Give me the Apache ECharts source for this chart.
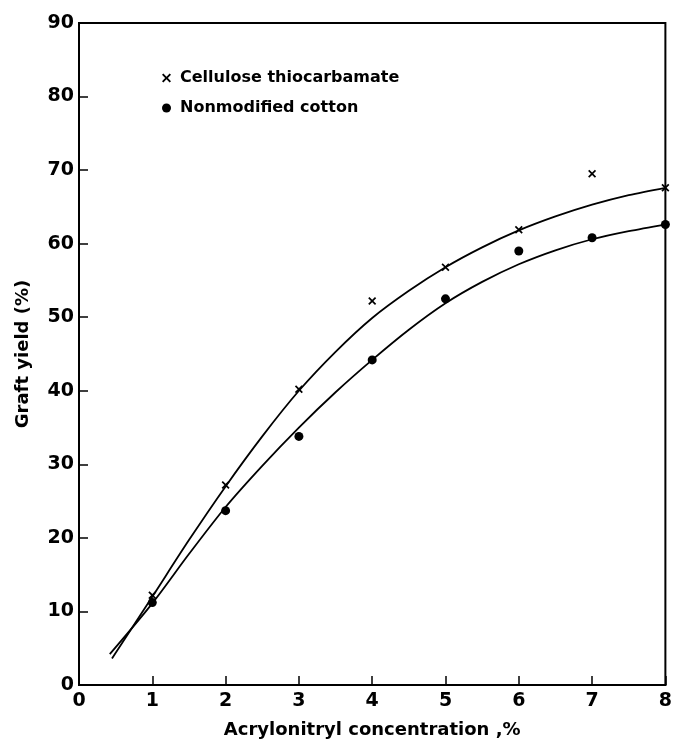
<!DOCTYPE html>
<html><head><meta charset="utf-8">
<script src="https://cdn.jsdelivr.net/npm/echarts@6/dist/echarts.min.js"></script>
<style>html,body{margin:0;padding:0;background:#fff}#c{width:675px;height:744px}</style>
</head><body><div id="c"></div>
<script>
// Measured points
var xThio = [1, 2, 3, 4, 5, 6, 7, 8];
var yThio = [12.2, 27.2, 40.2, 52.2, 56.8, 61.9, 69.5, 67.6];
var xCotton = [1, 2, 3, 4, 5, 6, 7, 8];
var yCotton = [11.2, 23.7, 33.8, 44.2, 52.5, 59.0, 60.8, 62.6];
// Fitted curves
var curveThioX = [0.45, 1, 1.5, 2, 2.5, 3, 3.5, 4, 4.5, 5, 5.5, 6, 6.5, 7, 7.5, 8];
var curveThioY = [3.6, 12.0, 19.7, 27.0, 33.8, 40.0, 45.3, 49.9, 53.6, 56.8, 59.5, 61.8, 63.7, 65.3, 66.6, 67.6];
var curveCottonX = [0.42, 1, 1.5, 2, 2.5, 3, 3.5, 4, 4.5, 5, 5.5, 6, 6.5, 7, 7.5, 8];
var curveCottonY = [4.2, 11.1, 17.8, 24.2, 29.8, 35.0, 39.8, 44.2, 48.3, 51.9, 54.8, 57.2, 59.1, 60.6, 61.7, 62.6];
var xTicks = [0, 1, 2, 3, 4, 5, 6, 7, 8];
var yTicks = [0, 10, 20, 30, 40, 50, 60, 70, 80, 90];
var names = ['Cellulose thiocarbamate', 'Nonmodified cotton'];
var xTitle = 'Acrylonitryl concentration ,%';
var yTitle = 'Graft yield (%)';

function pairs(xs, ys) { return xs.map(function (x, i) { return [x, ys[i]]; }); }
var crossPath = 'path://M0,1.5L1.5,0L5,3.5L8.5,0L10,1.5L6.5,5L10,8.5L8.5,10L5,6.5L1.5,10L0,8.5L3.5,5Z';
var font = 'DejaVu Sans';

var chart = echarts.init(document.getElementById('c'));
chart.setOption({
  animation: false,
  backgroundColor: '#fff',
  textStyle: { fontFamily: font },
  grid: { left: 79, right: 8, top: 23, bottom: 54, show: true, borderColor: '#000', borderWidth: 2, backgroundColor: 'transparent' },
  legend: {
    orient: 'vertical', left: 157, top: 65, itemGap: 14, itemWidth: 9, itemHeight: 9,
    textStyle: { fontFamily: font, fontWeight: 'bold', fontSize: 16, color: '#000', padding: [0, 0, 0, 4] },
    data: [{ name: names[0], icon: crossPath }, { name: names[1], icon: 'circle' }]
  },
  xAxis: {
    type: 'value', min: xTicks[0], max: xTicks[xTicks.length - 1], interval: 1,
    name: xTitle, nameLocation: 'middle', nameGap: 36,
    nameTextStyle: { fontFamily: font, fontWeight: 'bold', fontSize: 18, color: '#000' },
    axisLine: { lineStyle: { color: '#000', width: 2 } },
    axisTick: { inside: true, length: 9, lineStyle: { color: '#000', width: 1.5 } },
    axisLabel: { fontFamily: font, fontWeight: 'bold', fontSize: 19, color: '#000', margin: 7 },
    splitLine: { show: false }
  },
  yAxis: {
    type: 'value', min: yTicks[0], max: yTicks[yTicks.length - 1], interval: 10,
    name: yTitle, nameLocation: 'middle', nameGap: 47,
    nameTextStyle: { fontFamily: font, fontWeight: 'bold', fontSize: 18, color: '#000' },
    axisLine: { lineStyle: { color: '#000', width: 2 } },
    axisTick: { inside: true, length: 9, lineStyle: { color: '#000', width: 1.5 } },
    axisLabel: { fontFamily: font, fontWeight: 'bold', fontSize: 19, color: '#000', margin: 5 },
    splitLine: { show: false }
  },
  series: [
    { name: names[0], type: 'scatter', symbol: crossPath, symbolSize: 8, itemStyle: { color: '#000', opacity: 1 }, data: pairs(xThio, yThio), z: 5 },
    { name: names[1], type: 'scatter', symbol: 'circle', symbolSize: 9, itemStyle: { color: '#000', opacity: 1 }, data: pairs(xCotton, yCotton), z: 5 },
    { name: 'thioCurve', type: 'line', smooth: 0.3, showSymbol: false, lineStyle: { color: '#000', width: 1.8 }, data: pairs(curveThioX, curveThioY), silent: true },
    { name: 'cottonCurve', type: 'line', smooth: 0.3, showSymbol: false, lineStyle: { color: '#000', width: 1.8 }, data: pairs(curveCottonX, curveCottonY), silent: true }
  ]
});
</script>
</body></html>
